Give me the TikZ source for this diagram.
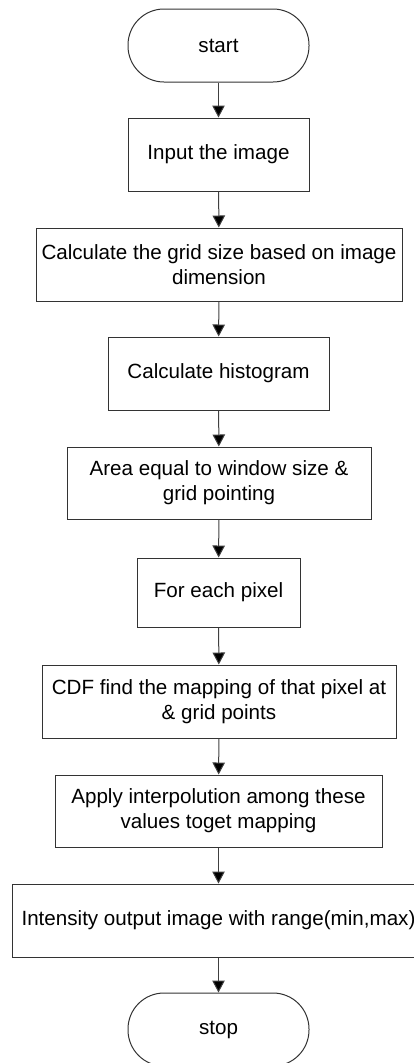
\documentclass[tikz,border=0pt]{standalone}
\usepackage{fontspec}
\setmainfont{Liberation Sans}
\usetikzlibrary{arrows.meta}
\begin{document}
\begin{tikzpicture}[x=1pt,y=1pt,
  every node/.style={font=\fontsize{20.6}{25}\selectfont, text=black, align=center, inner sep=0pt},
  procbox/.style={draw=black!80, line width=1pt, rectangle, minimum height=73pt},
  termbox/.style={draw=black!80, line width=1pt, rectangle, rounded corners=36pt, minimum width=181pt, minimum height=73pt},
  flow/.style={draw=black!75, line width=1pt, -{Triangle[length=12pt,width=12.5pt,fill=black]}}]
\useasboundingbox (0,0) rectangle (414,-1063);

\node[termbox] (start) at (218.5,-45.5) {start};
\node[procbox, minimum width=181pt] (input) at (218.5,-154.5) {Input the image};
\node[procbox, minimum width=366pt] (grid) at (219,-264.5) {Calculate the grid size based on image\\dimension};
\node[procbox, minimum width=221pt] (hist) at (218.5,-373.5) {Calculate histogram};
\node[procbox, minimum width=304pt, minimum height=72pt] (area) at (219,-483) {Area equal to window size \&\\grid pointing};
\node[procbox, minimum width=163pt, minimum height=69pt] (pixel) at (218.5,-592.5) {For each pixel};
\node[procbox, minimum width=354pt] (cdf) at (219,-701.5) {CDF find the mapping of that pixel at\\\& grid points};
\node[procbox, minimum width=327pt, minimum height=72pt] (apply) at (218.5,-811) {Apply interpolution among these\\values toget mapping};
\node[procbox, minimum width=413pt] (intens) at (218.5,-920.5) {Intensity output image with range(min,max)};
\node[termbox] (stop) at (218.5,-1029.5) {stop};

\draw[flow] (start) -- (input);
\draw[flow] (input) -- (grid);
\draw[flow] (grid) -- (hist);
\draw[flow] (hist) -- (area);
\draw[flow] (area) -- (pixel);
\draw[flow] (pixel) -- (cdf);
\draw[flow] (cdf) -- (apply);
\draw[flow] (apply) -- (intens);
\draw[flow] (intens) -- (stop);
\end{tikzpicture}
\end{document}
